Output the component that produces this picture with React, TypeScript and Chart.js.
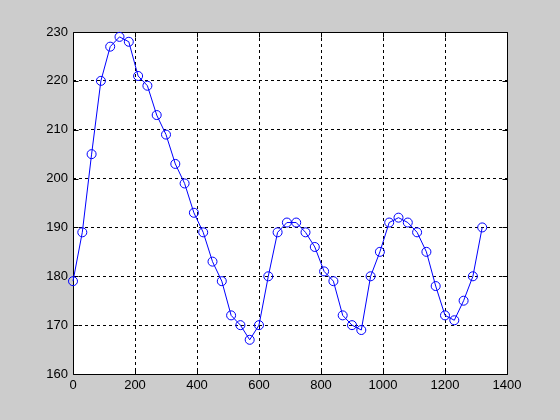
import React, { useEffect, useRef } from "react";
import { Chart, registerables } from "chart.js";

Chart.register(...registerables);

const xValues: number[] = [
  0, 30, 60, 90, 120, 150, 180, 210, 240, 270, 300, 330, 360, 390, 420,
  450, 480, 510, 540, 570, 600, 630, 660, 690, 720, 750, 780, 810, 840, 870,
  900, 930, 960, 990, 1020, 1050, 1080, 1110, 1140, 1170, 1200, 1230, 1260, 1290, 1320,
];
const yValues: number[] = [
  179, 189, 205, 220, 227, 229, 228, 221, 219, 213, 209, 203, 199, 193, 189,
  183, 179, 172, 170, 167, 170, 180, 189, 191, 191, 189, 186, 181, 179, 172,
  170, 169, 180, 185, 191, 192, 191, 189, 185, 178, 172, 171, 175, 180, 190,
];
const xTicks: number[] = [0, 200, 400, 600, 800, 1000, 1200, 1400];
const yTicks: number[] = [160, 170, 180, 190, 200, 210, 220, 230];

const FONT = { family: "'Liberation Sans', Arial, Helvetica, sans-serif", size: 13 };

const framePlugin = {
  id: "matlabFrame",
  beforeDraw(chart: any) {
    const { ctx, chartArea: a, width, height } = chart;
    ctx.save();
    ctx.fillStyle = "#cccccc";
    ctx.fillRect(0, 0, width, height);
    ctx.fillStyle = "#ffffff";
    ctx.fillRect(a.left, a.top, a.right - a.left, a.bottom - a.top);
    ctx.restore();
  },
  beforeDatasetsDraw(chart: any) {
    const { ctx, chartArea: a, scales } = chart;
    const L = Math.round(a.left) + 0.5;
    const R = Math.round(a.right) + 0.5;
    const T = Math.round(a.top) + 0.5;
    const B = Math.round(a.bottom) + 0.5;
    const tl = 5;
    ctx.save();
    ctx.strokeStyle = "#000000";
    ctx.lineWidth = 1;
    ctx.setLineDash([]);
    ctx.beginPath();
    ctx.rect(L, T, R - L, B - T);
    for (const v of xTicks) {
      const px = Math.round(scales.x.getPixelForValue(v)) + 0.5;
      ctx.moveTo(px, B);
      ctx.lineTo(px, B - tl);
      ctx.moveTo(px, T);
      ctx.lineTo(px, T + tl);
    }
    for (const v of yTicks) {
      const py = Math.round(scales.y.getPixelForValue(v)) + 0.5;
      ctx.moveTo(L, py);
      ctx.lineTo(L + tl, py);
      ctx.moveTo(R, py);
      ctx.lineTo(R - tl, py);
    }
    ctx.stroke();
    ctx.restore();
  },
};

export default function App() {
  const ref = useRef<HTMLCanvasElement | null>(null);
  useEffect(() => {
    if (!ref.current) return;
    const data = xValues.map((x, i) => ({ x, y: yValues[i] }));
    const chart = new Chart(ref.current, {
      type: "line",
      data: {
        datasets: [
          {
            data,
            borderColor: "#0000ff",
            borderWidth: 1,
            pointStyle: "circle",
            pointRadius: 4.5,
            pointBorderColor: "#0000ff",
            pointBackgroundColor: "rgba(0,0,0,0)",
            pointBorderWidth: 1,
            tension: 0,
            fill: false,
            clip: false as any,
          },
        ],
      },
      options: {
        responsive: false,
        animation: false,
        events: [],
        layout: { padding: { top: 32, right: 53, left: 0, bottom: 0 } },
        plugins: { legend: { display: false }, tooltip: { enabled: false } },
        scales: {
          x: {
            type: "linear",
            min: 0,
            max: 1400,
            afterBuildTicks: (s: any) => {
              s.ticks = xTicks.map((v) => ({ value: v }));
            },
            afterFit: (s: any) => {
              s.height = 46;
            },
            ticks: {
              color: "#000000",
              font: FONT,
              padding: 4,
              autoSkip: false,
              maxRotation: 0,
              callback: (v: any) => String(v),
            },
            grid: {
              drawTicks: false,
              color: (c: any) =>
                c.tick && (c.tick.value === 0 || c.tick.value === 1400) ? "rgba(0,0,0,0)" : "#000000",
              lineWidth: 1,
            },
            border: { display: false, dash: [3, 3] },
          },
          y: {
            type: "linear",
            min: 160,
            max: 230,
            afterBuildTicks: (s: any) => {
              s.ticks = yTicks.map((v) => ({ value: v }));
            },
            afterFit: (s: any) => {
              s.width = 73;
            },
            ticks: {
              color: "#000000",
              font: FONT,
              padding: 5,
              autoSkip: false,
              callback: (v: any) => String(v),
            },
            grid: {
              drawTicks: false,
              color: (c: any) =>
                c.tick && (c.tick.value === 160 || c.tick.value === 230) ? "rgba(0,0,0,0)" : "#000000",
              lineWidth: 1,
            },
            border: { display: false, dash: [3, 3] },
          },
        },
      },
      plugins: [framePlugin],
    });
    return () => chart.destroy();
  }, []);
  return (
    <div style={{ position: "fixed", left: 0, top: 0, width: 560, height: 420, background: "#cccccc" }}>
      <canvas ref={ref} width={560} height={420} style={{ display: "block", width: 560, height: 420 }} />
    </div>
  );
}
